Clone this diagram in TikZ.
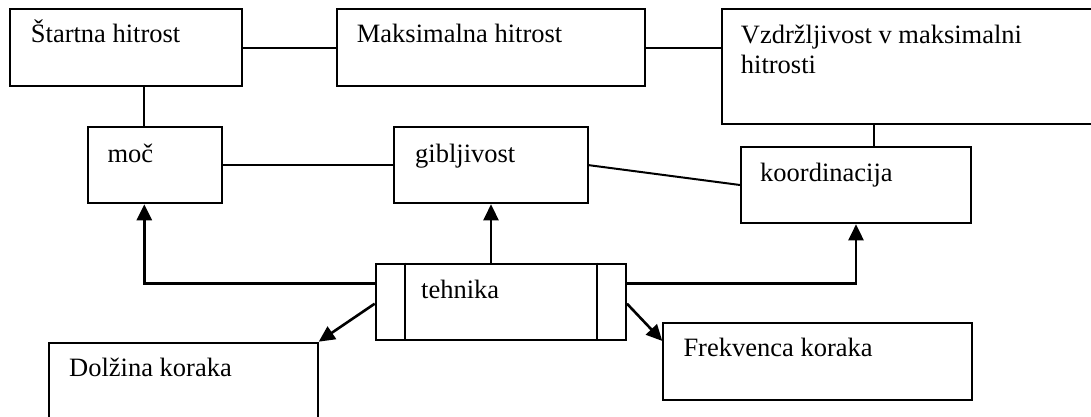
\documentclass[tikz,border=0pt]{standalone}
\usepackage{fontspec}
\setmainfont{Liberation Serif}
\usetikzlibrary{arrows.meta,calc}
\begin{document}
\begin{tikzpicture}[x=1pt,y=-1pt,
  box/.style={draw,line width=2pt,rectangle,inner sep=0pt,anchor=north west},
  txt/.style={anchor=base west,inner sep=0pt,font=\fontsize{26.5}{30}\selectfont},
  link/.style={line width=2pt},
  arr/.style={line width=2.6pt,-{Triangle[length=16pt,width=15pt]}}]
\useasboundingbox (0,0) rectangle (1091,417);
\clip (0,0) rectangle (1091,417);
% boxes
\node[box,minimum width=231.4pt,minimum height=76.7pt] (start) at (9.3,8.3) {};
\node[box,minimum width=308pt,minimum height=76.7pt] (maks) at (336,8.3) {};
\node[box,minimum width=379.3pt,minimum height=115pt] (vzd) at (720.7,8.3) {};
\node[box,minimum width=134.3pt,minimum height=76.6pt] (moc) at (86.7,125.7) {};
\node[box,minimum width=193.4pt,minimum height=76.3pt] (gib) at (393.3,126) {};
\node[box,minimum width=230pt,minimum height=76.6pt] (koord) at (740,145.7) {};
\node[box,minimum width=250.3pt,minimum height=76.6pt] (teh) at (374.7,262.7) {};
\node[box,minimum width=268.4pt,minimum height=98.3pt] (dol) at (48.3,341.7) {};
\node[box,minimum width=308.4pt,minimum height=76.7pt] (frek) at (662.3,322.3) {};
% inner bars of tehnika
\draw[line width=2pt] ([xshift=30.3pt]teh.north west) -- ([xshift=30.3pt]teh.south west);
\draw[line width=2pt] ([xshift=-30pt]teh.north east) -- ([xshift=-30pt]teh.south east);
% texts
\node[txt] (tstart) at ([shift={(21.4pt,-34.7pt)}]start.north west) {Štartna hitrost};
\node[txt] (tmaks) at ([shift={(20.7pt,-34.7pt)}]maks.north west) {Maksimalna hitrost};
\node[txt] (tvzda) at ([shift={(20pt,-35.7pt)}]vzd.north west) {Vzdržljivost v maksimalni};
\node[txt] (tvzdb) at ([shift={(20pt,-65.7pt)}]vzd.north west) {hitrosti};
\node[txt] (tmoc) at ([shift={(20.6pt,-36.6pt)}]moc.north west) {moč};
\node[txt] (tgib) at ([shift={(21.7pt,-36pt)}]gib.north west) {gibljivost};
\node[txt] (tkoord) at ([shift={(20pt,-36pt)}]koord.north west) {koordinacija};
\node[txt] (tteh) at ([shift={(46.3pt,-35.6pt)}]teh.north west) {tehnika};
\node[txt] (tdol) at ([shift={(20.7pt,-35pt)}]dol.north west) {Dolžina koraka};
\node[txt] (tfrek) at ([shift={(21pt,-34.4pt)}]frek.north west) {Frekvenca koraka};
% plain links
\draw[link] (start.east) -- (start.east -| maks.west);
\draw[link] (maks.east |- start.east) -- (start.east -| vzd.west);
\draw[link] ([xshift=57.6pt]moc.north west) -- ([xshift=57.6pt]moc.north west |- start.south);
\draw[link] (moc.east) -- (moc.east -| gib.west);
\draw[link] (gib.east) -- (koord.west);
\draw[link] ([xshift=134pt]koord.north west) -- ([xshift=134pt]koord.north west |- vzd.south);
% arrows from tehnika
\draw[arr] ([yshift=18.3pt]teh.west) -| ([xshift=57.6pt]moc.south west);
\draw[arr] (gib.south |- teh.north) -- (gib.south);
\draw[arr] ([yshift=18.3pt]teh.east) -| (koord.south);
\draw[arr] ([yshift=-1.7pt]teh.west) -- (dol.north east);
\draw[arr] ([yshift=-1.7pt]teh.east) -- ([yshift=20.7pt]frek.west);
\end{tikzpicture}
\end{document}
